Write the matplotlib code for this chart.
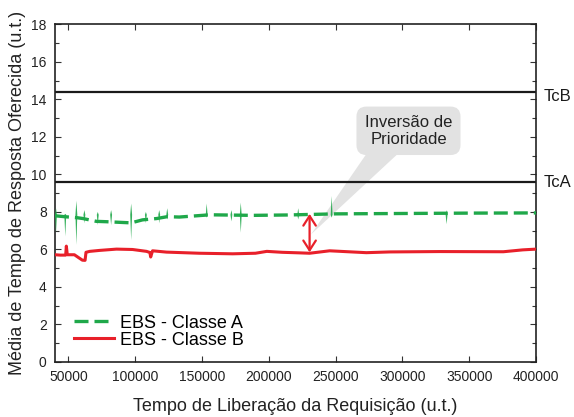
import matplotlib
matplotlib.use("Agg")
import matplotlib.pyplot as plt
from matplotlib.patches import Polygon
from matplotlib.ticker import MultipleLocator

plt.rcParams['font.family'] = ['Liberation Sans', 'DejaVu Sans']

# Threshold levels
tc_a = 9.6
tc_b = 14.4

# Class A mean response time (baseline)
green_x = [40000, 47000, 56000, 61000, 71000, 79000, 88000, 97000, 105500,
           116000, 124000, 133000, 156000, 188000, 213500, 250000, 300000,
           350000, 400000]
green_y = [7.8, 7.75, 7.7, 7.65, 7.5, 7.48, 7.45, 7.42, 7.58,
           7.65, 7.75, 7.73, 7.85, 7.82, 7.84, 7.9, 7.92, 7.94, 7.95]

# Class A transient spikes: position, peak, trough
spike_x = [40750, 47700, 56000, 62000, 72000, 82000, 97000, 108000, 118000,
           124000, 153500, 172000, 179000, 222000, 247000, 333000]
spike_hi = [8.2, 7.9, 8.6, 8.1, 8.0, 8.1, 8.45, 8.0, 8.1,
            8.2, 8.45, 8.1, 8.5, 8.2, 8.85, 8.1]
spike_lo = [6.9, 6.7, 6.25, 7.4, 7.3, 7.3, 6.5, 7.4, 7.4,
            7.6, 7.7, 7.5, 6.9, 7.6, 7.7, 7.35]

# Class B mean response time
red_x = [40000, 44000, 48000, 48500, 49200, 54500, 58000, 60500, 62500,
         63200, 66000, 73200, 86000, 98000, 108500, 111000, 111600, 113000,
         123500, 148000, 173000, 190000, 198500, 210000, 223000, 230500,
         245500, 273000, 290500, 328000, 375500, 390000, 400000]
red_y = [5.72, 5.7, 5.7, 6.18, 5.72, 5.72, 5.55, 5.43, 5.42,
         5.85, 5.9, 5.95, 6.02, 6.0, 5.9, 5.84, 5.6, 5.93,
         5.86, 5.8, 5.77, 5.8, 5.9, 5.85, 5.82, 5.8,
         5.93, 5.83, 5.87, 5.89, 5.88, 5.98, 6.02]

# Priority inversion marker
inv_x = 230500
inv_lo = 5.85
inv_hi = 7.9

GREEN = '#1fa84a'
RED = '#e8202a'
BUBBLE = '#e2e2e2'

fig = plt.figure(figsize=(5.74, 4.17), dpi=100)
ax = fig.add_axes([0.0958, 0.1319, 0.8382, 0.8094])

ax.axhline(tc_b, color='#1a1a1a', lw=1.6, zorder=2)
ax.axhline(tc_a, color='#1a1a1a', lw=1.6, zorder=2)

# Callout bubble with a pointed tail
tail = Polygon([(274000, 11.2), (298000, 11.2), (231500, 6.8)],
               closed=True, fc=BUBBLE, ec='none', zorder=1)
ax.add_patch(tail)
ax.text(304500, 12.33, 'Inversão de\nPrioridade', ha='center', va='center',
        fontsize=12, color='#222222', linespacing=1.15, zorder=3,
        bbox=dict(boxstyle='round,pad=0.5,rounding_size=0.6', fc=BUBBLE,
                  ec='none'))

# Class A spikes
for sx, hi, lo in zip(spike_x, spike_hi, spike_lo):
    w = 700
    ax.fill([sx - w, sx, sx + w, sx], [7.85, hi, 7.85, lo],
            color=GREEN, alpha=0.9, lw=0, zorder=3)

ax.plot(green_x, green_y, color=GREEN, lw=2.4, linestyle=(0, (4.2, 1.8)),
        label='EBS - Classe A', zorder=4)
ax.plot(red_x, red_y, color=RED, lw=2.2, label='EBS - Classe B', zorder=4)

ax.annotate('', xy=(inv_x, inv_hi), xytext=(inv_x, inv_lo),
            arrowprops=dict(arrowstyle='<->,head_length=0.7,head_width=0.45',
                            color=RED, lw=1.6, shrinkA=0, shrinkB=0),
            zorder=5)

ax.text(1.015, tc_b - 0.25, 'TcB', transform=ax.get_yaxis_transform(),
        ha='left', va='center', fontsize=12, color='#1a1a1a')
ax.text(1.015, tc_a - 0.05, 'TcA', transform=ax.get_yaxis_transform(),
        ha='left', va='center', fontsize=12, color='#1a1a1a')

ax.set_xlim(40000, 400000)
ax.set_ylim(0, 18)
ax.xaxis.set_major_locator(MultipleLocator(50000))
ax.yaxis.set_major_locator(MultipleLocator(2))
ax.yaxis.set_minor_locator(MultipleLocator(1))
ax.tick_params(which='both', direction='in', top=True, right=True,
               labelsize=10, colors='#333333', labelcolor='#222222')
ax.tick_params(which='major', length=4, width=0.8, pad=6)
ax.tick_params(which='minor', length=3, width=0.8)
for s in ax.spines.values():
    s.set_linewidth(1.2)
    s.set_color('#222222')

ax.set_xlabel('Tempo de Liberação da Requisição (u.t.)', fontsize=13,
              color='#222222', labelpad=10)
ax.set_ylabel('Média de Tempo de Resposta Oferecida (u.t.)', fontsize=13,
              color='#222222', labelpad=4)

leg = ax.legend(loc='upper left', bbox_to_anchor=(0.04, 0.14),
                frameon=False, fontsize=13, handlelength=2.2,
                handletextpad=0.35, labelspacing=0.0, borderpad=0,
                borderaxespad=0)

fig.savefig('out.png', dpi=100)
